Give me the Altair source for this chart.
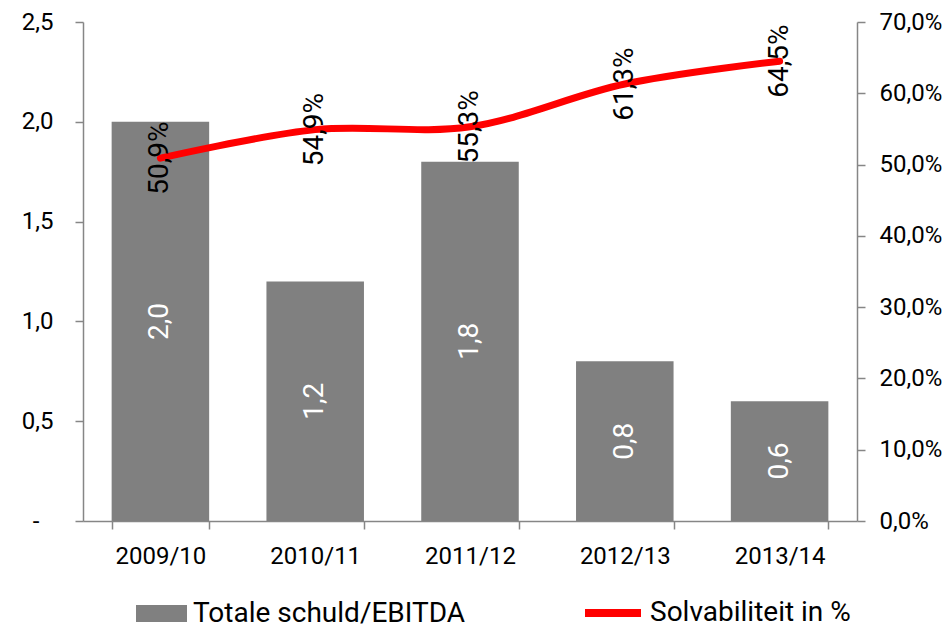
import altair as alt
import pandas as pd

years = ["2009/10", "2010/11", "2011/12", "2012/13", "2013/14"]
schuld = [2.0, 1.2, 1.8, 0.8, 0.6]
solv = [0.509, 0.549, 0.553, 0.613, 0.645]
left_ticks = [0, 0.5, 1.0, 1.5, 2.0, 2.5]
right_ticks = [0, 0.1, 0.2, 0.3, 0.4, 0.5, 0.6, 0.7]
bar_name = "Totale schuld/EBITDA"
line_name = "Solvabiliteit in %"

df = pd.DataFrame({
    "jaar": years,
    "schuld": schuld,
    "solv": solv,
    "bserie": [bar_name] * len(years),
    "lserie": [line_name] * len(years),
})

FONT = "Roboto"
GRAY = "#808080"
AXIS_GRAY = "#868686"

x_enc = alt.X(
    "jaar:N",
    sort=years,
    scale=alt.Scale(paddingInner=0.37, paddingOuter=0.185),
    axis=alt.Axis(title=None, labelAngle=0, tickBand="extent", labelPadding=15,
                  labelFontSize=24),
)

y_left_scale = alt.Scale(domain=[0, 2.5], nice=False)
y_right_scale = alt.Scale(domain=[0, 0.7], nice=False)

left_axis = alt.Axis(
    title=None, values=left_ticks, orient="left",
    labelPadding={"condition": {"test": "datum.value == 0", "value": 36}, "value": 22},
    labelExpr="datum.value == 0 ? '-' : replace(format(datum.value, '.1f'), '.', ',')",
)
right_axis = alt.Axis(
    title=None, values=right_ticks, orient="right", labelPadding=14,
    labelExpr="replace(format(datum.value, '.1%'), '.', ',')",
)

bar = alt.Chart().mark_bar().encode(
    x=x_enc,
    y=alt.Y("schuld:Q", scale=y_left_scale, axis=left_axis),
    fill=alt.Fill("bserie:N",
                  scale=alt.Scale(domain=[bar_name], range=[GRAY]),
                  legend=alt.Legend(title=None, orient="none", legendX=53, legendY=566,
                                    symbolType="M-1,-0.333H1V0.333H-1Z", symbolSize=2601,
                                    symbolStrokeWidth=0, labelFontSize=28, labelFont=FONT,
                                    labelColor="black", labelOffset=6, padding=0,
                                    labelLimit=500)),
)

bar_text = alt.Chart().transform_calculate(
    mid="datum.schuld / 2",
    lab="replace(format(datum.schuld, '.1f'), '.', ',')",
).mark_text(angle=270, align="center", baseline="middle", color="white",
            fontSize=28, font=FONT).encode(
    x=alt.X("jaar:N", sort=years),
    y=alt.Y("mid:Q", scale=y_left_scale, axis=left_axis),
    text="lab:N",
)

line = alt.Chart().mark_line(strokeWidth=7, interpolate="catmull-rom",
                             strokeCap="round").encode(
    x=alt.X("jaar:N", sort=years),
    y=alt.Y("solv:Q", scale=y_right_scale, axis=right_axis),
    stroke=alt.Stroke("lserie:N",
                      scale=alt.Scale(domain=[line_name], range=["#ff0000"]),
                      legend=alt.Legend(title=None, orient="none", legendX=498, legendY=559,
                                        symbolType="stroke", symbolSize=3136,
                                        symbolStrokeWidth=8, labelFontSize=28,
                                        labelFont=FONT, labelColor="black",
                                        labelOffset=5, padding=0, labelLimit=500)),
)

line_text = alt.Chart().transform_calculate(
    lab="replace(format(datum.solv, '.1%'), '.', ',')",
).mark_text(angle=270, align="center", baseline="middle", color="black",
            fontSize=28, font=FONT).encode(
    x=alt.X("jaar:N", sort=years),
    y=alt.Y("solv:Q", scale=y_right_scale, axis=right_axis),
    text="lab:N",
)

left = alt.layer(bar, bar_text)
right = alt.layer(line, line_text)

chart = alt.layer(left, right, data=df).resolve_scale(
    y="independent"
).properties(
    width=774,
    height=499,
    autosize=alt.AutoSizeParams(type="none"),
    padding={"left": 75, "top": 14, "right": 87, "bottom": 107},
).configure_view(stroke=None).configure_axis(
    domainColor=AXIS_GRAY, tickColor=AXIS_GRAY, domainWidth=1.5, tickWidth=1.5,
    tickSize=8, labelColor="black", labelFont=FONT, labelFontSize=24, grid=False,
)

chart.save("out.html", embed_options={"renderer": "svg", "actions": False})
